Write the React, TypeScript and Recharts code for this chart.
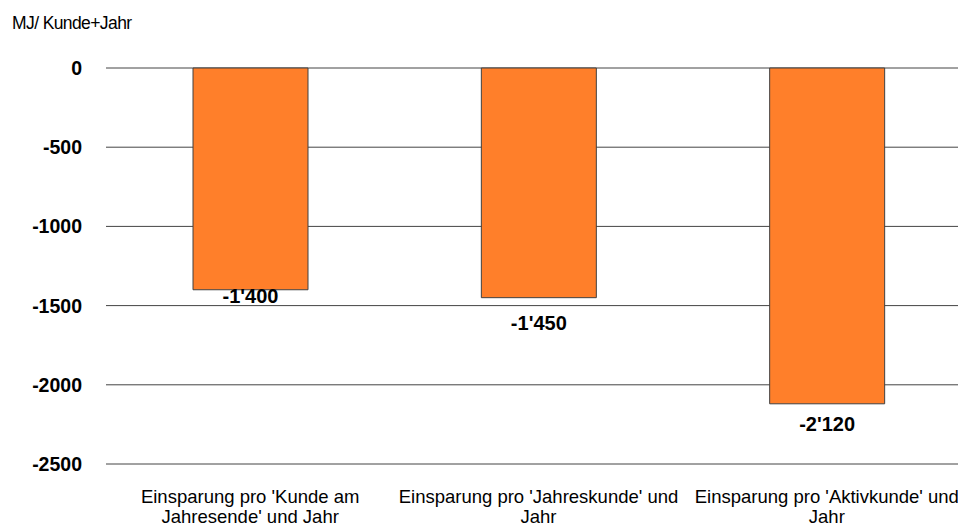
import { BarChart, Bar, XAxis, YAxis, CartesianGrid, LabelList } from 'recharts'

const categories = [
  "Einsparung pro 'Kunde am\nJahresende' und Jahr",
  "Einsparung pro 'Jahreskunde' und\nJahr",
  "Einsparung pro 'Aktivkunde' und\nJahr",
]
const savings = [-1400, -1450, -2120]
const yTicks = [0, -500, -1000, -1500, -2000, -2500]
const unitLabel = 'MJ/ Kunde+Jahr'

// distance from bar end to label baseline, as placed in the original
const labelDy = [13, 32, 27]

const data = categories.map((name, i) => ({ name, value: savings[i] }))

const fmt = (v: number) => {
  const s = Math.abs(v).toString().replace(/\B(?=(\d{3})+(?!\d))/g, "'")
  return (v < 0 ? '-' : '') + s
}

function CategoryTick({ x, y, payload }: any) {
  const lines = String(payload.value).split('\n')
  return (
    <text x={x} y={y} textAnchor="middle" fontSize={18.5} fill="#000" fontFamily="Liberation Sans, Arial, sans-serif">
      {lines.map((l, i) => (
        <tspan key={i} x={x} y={y + 31 + i * 20}>{l}</tspan>
      ))}
    </text>
  )
}

function ValueLabel(props: any) {
  const { x, y, width, height, value, index } = props
  const bottom = Math.max(y, y + height)
  return (
    <text
      x={x + width / 2}
      y={bottom + labelDy[index]}
      textAnchor="middle"
      fontSize={20}
      fontWeight="bold"
      fill="#000"
      fontFamily="Liberation Sans, Arial, sans-serif"
    >
      {fmt(value)}
    </text>
  )
}

export default function App() {
  return (
    <div style={{ position: 'absolute', left: 0, top: 0, width: 958, height: 529, overflow: 'hidden', background: '#fff', fontFamily: 'Liberation Sans, Arial, sans-serif' }}>
      <div style={{ position: 'absolute', left: 12, top: 13, fontSize: 17.5, color: '#000', letterSpacing: -0.6 }}>
        {unitLabel}
      </div>
      <BarChart
        width={972}
        height={529}
        data={data}
        margin={{ top: 68, right: 1, bottom: 0, left: 0 }}
      >
        <CartesianGrid vertical={false} stroke="#444" strokeWidth={1} />
        <XAxis dataKey="name" axisLine={false} tickLine={false} tick={<CategoryTick />} height={65} interval={0} />
        <YAxis
          domain={[-2500, 0]}
          ticks={yTicks}
          axisLine={false}
          tickLine={false}
          tickSize={0}
          tickMargin={24}
          width={106}
          tick={{ fontSize: 19.5, fontWeight: 'bold', fill: '#000', fontFamily: 'Liberation Sans, Arial, sans-serif' }}
        />
        <Bar dataKey="value" fill="#FF7F2A" stroke="#404040" strokeWidth={1} barSize={115} isAnimationActive={false}>
          <LabelList dataKey="value" content={<ValueLabel />} />
        </Bar>
      </BarChart>
    </div>
  )
}
